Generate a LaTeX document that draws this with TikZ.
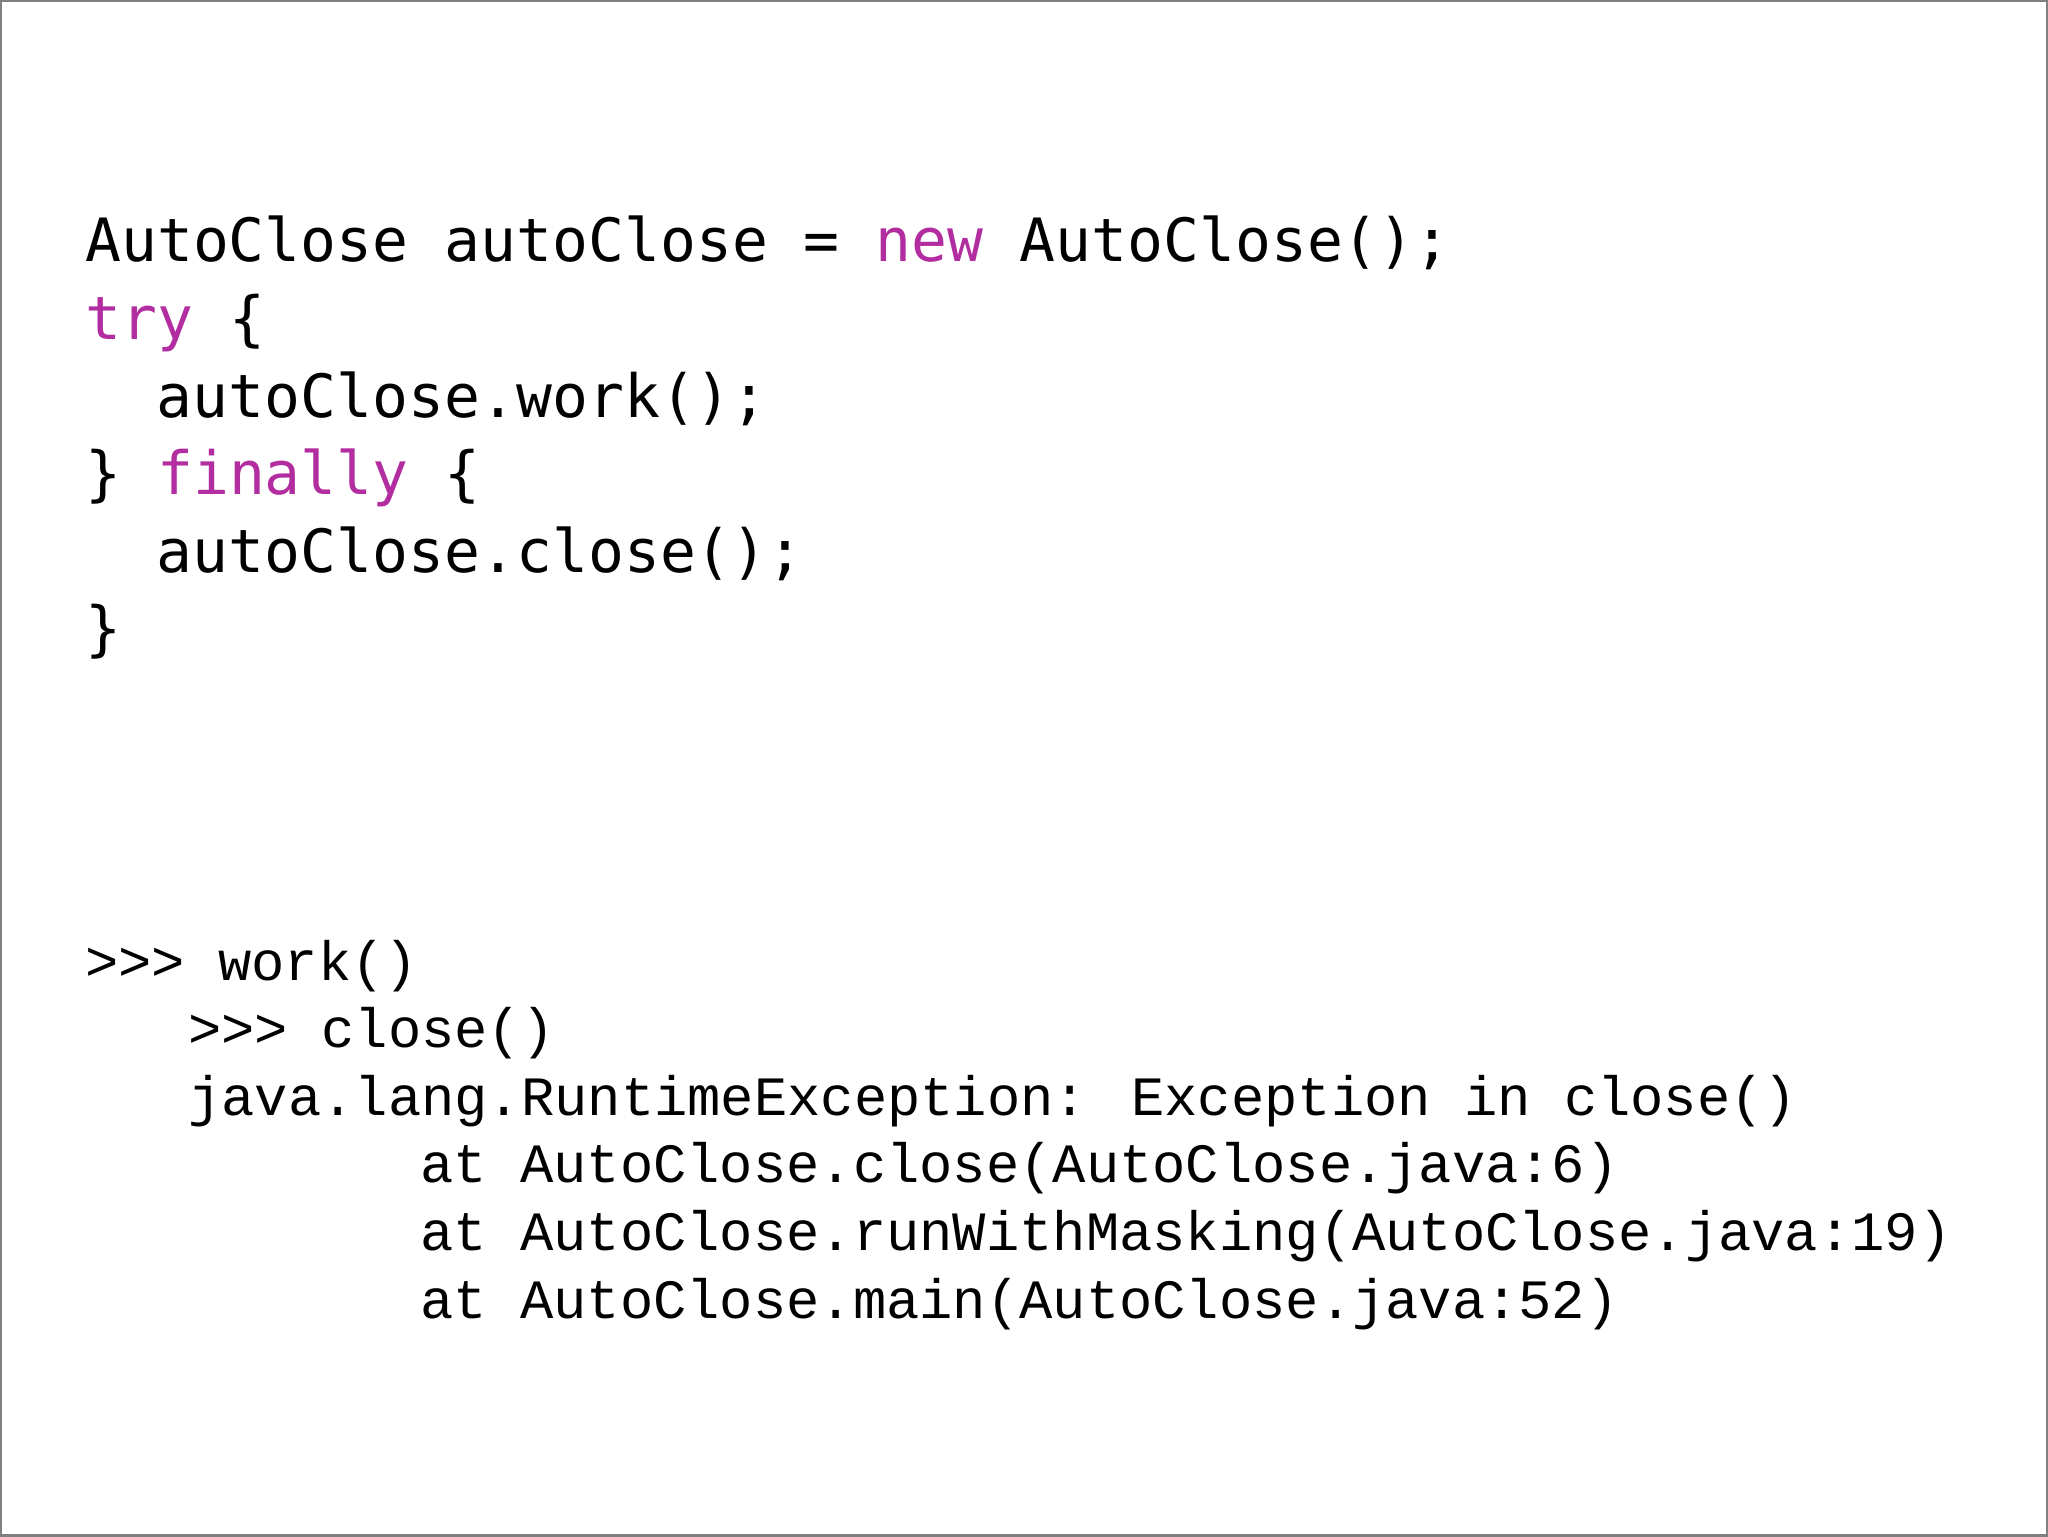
\documentclass[tikz,border=0pt]{standalone}
\usepackage{fontspec}
\newfontfamily\codefont{DejaVu Sans Mono}
\newfontfamily\outfont{Liberation Mono}
\definecolor{kw}{RGB}{178,45,160}
\tikzset{
 codeline/.style={anchor=base west,inner sep=0pt,font=\codefont\fontsize{17pt}{20pt}\selectfont},
 outline/.style={anchor=base west,inner sep=0pt,font=\outfont\fontsize{15.8pt}{18pt}\selectfont}
}
\begin{document}
\begin{tikzpicture}
\draw[gray,line width=0.6pt,fill=white] (0,0) rectangle (20.48,15.36);
\useasboundingbox (0,0) rectangle (20.48,15.36);
\def\dy{0.777}
\node[codeline] (c1) at (0.836,12.75) {AutoClose autoClose = \textcolor{kw}{new} AutoClose();};
\node[codeline] (c2) at (0.836,12.75-\dy) {\textcolor{kw}{try} \{};
\node[codeline] (c3) at (1.554,12.75-2*\dy) {autoClose.work();};
\node[codeline] (c4) at (0.836,12.75-3*\dy) {\} \textcolor{kw}{finally} \{};
\node[codeline] (c5) at (1.554,12.75-4*\dy) {autoClose.close();};
\node[codeline] (c6) at (0.836,12.75-5*\dy) {\}};
\def\ey{0.677}
\node[outline] (o1) at (0.836,5.56) {>{}>{}> work()};
\node[outline] (o2) at (1.868,5.56-\ey) {>{}>{}> close()};
\node[outline] (o3) at (1.868,5.56-2*\ey) {java.lang.RuntimeException: Exception in close()};
\node[outline] (o4) at (4.19,5.56-3*\ey) {at AutoClose.close(AutoClose.java:6)};
\node[outline] (o5) at (4.19,5.56-4*\ey) {at AutoClose.runWithMasking(AutoClose.java:19)};
\node[outline] (o6) at (4.19,5.56-5*\ey) {at AutoClose.main(AutoClose.java:52)};
\end{tikzpicture}
\end{document}
